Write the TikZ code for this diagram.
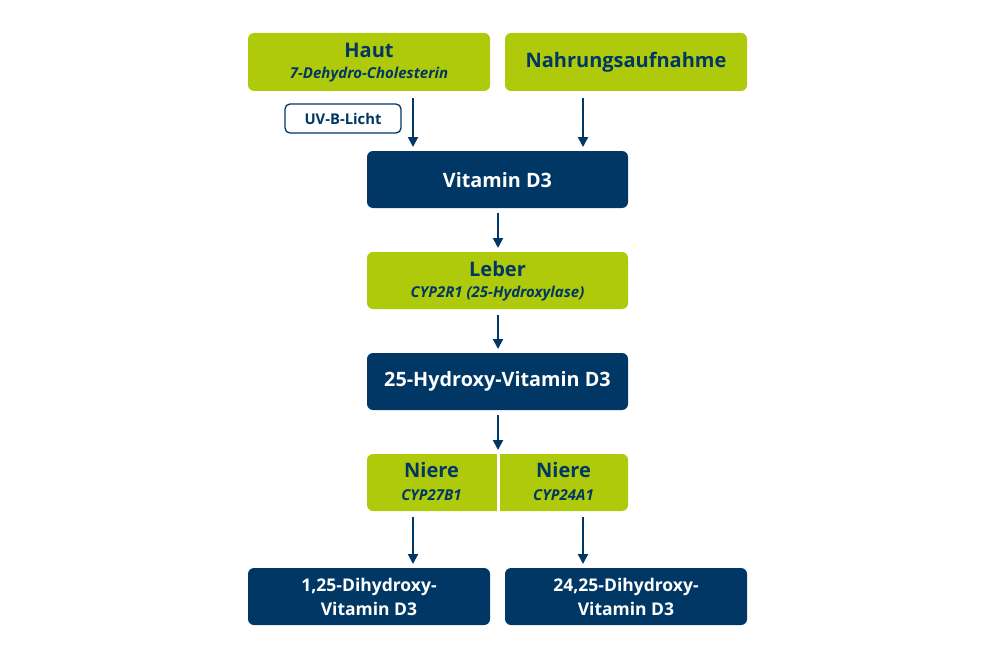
\documentclass[tikz,border=0pt]{standalone}
\usepackage{fontspec}
\setmainfont{Open Sans}
\usetikzlibrary{arrows.meta}
\definecolor{lime}{HTML}{AFCA0B}
\definecolor{navy}{HTML}{003764}
\tikzset{
  greenbox/.style={fill=lime, rounded corners=6pt, text=navy, align=center, inner sep=0pt},
  bluebox/.style={fill=navy, rounded corners=6pt, text=white, align=center, inner sep=0pt},
  conn/.style={draw=navy, line width=2pt, -{Triangle[length=10pt,width=10pt]}},
  big/.style={font=\fontsize{20}{24}\selectfont\bfseries},
  sub/.style={font=\fontsize{15}{17}\selectfont\bfseries\itshape},
  white20/.style={font=\fontsize{19.8}{23}\selectfont\bfseries, text=white},
  bottom/.style={font=\fontsize{17.5}{24}\selectfont\bfseries, text=white, align=center},
}
\begin{document}
\begin{tikzpicture}[x=1pt,y=-1pt]
\useasboundingbox (0,0) rectangle (1000,658);
% boxes
\fill[greenbox] (248,33) rectangle (490,91);
\fill[greenbox] (505,33) rectangle (747,91);
\fill[bluebox] (367,151) rectangle (628,208);
\fill[greenbox] (367,252) rectangle (628,309);
\fill[bluebox] (367,353) rectangle (628,410);
\fill[greenbox] (367,454) rectangle (628,511);
\fill[white] (496.5,452) rectangle (499.5,513);
\fill[bluebox] (248,568) rectangle (490,625);
\fill[bluebox] (505,568) rectangle (747,625);
\draw[navy, line width=1.3pt, rounded corners=5pt, fill=white] (285,104) rectangle (401,133);
% texts
\node[big, text=navy] (haut) at (369,50) {Haut};
\node[sub, text=navy] (hautsub) at (369,75) {7-Dehydro-Cholesterin};
\node[big, text=navy] (nahr) at (626,62) {Nahrungsaufnahme};
\node[font=\fontsize{14.8}{17}\selectfont\bfseries, text=navy] (uvb) at (343,118.5) {UV-B-Licht};
\node[white20] (vd3) at (497.5,180) {Vitamin D3};
\node[big, text=navy] (leber) at (497.5,269) {Leber};
\node[sub, text=navy] (lebersub) at (497.5,294) {CYP2R1 (25-Hydroxylase)};
\node[white20] (hvd3) at (497.5,381) {25-Hydroxy-Vitamin D3};
\node[big, text=navy] (n1) at (431.5,470) {Niere};
\node[sub, text=navy] (n1sub) at (431.5,495) {CYP27B1};
\node[big, text=navy] (n2) at (563.5,470) {Niere};
\node[sub, text=navy] (n2sub) at (563.5,495) {CYP24A1};
\node[bottom] (d1) at (369,596.5) {1,25-Dihydroxy-\\Vitamin D3};
\node[bottom] (d2) at (626,596.5) {24,25-Dihydroxy-\\Vitamin D3};
% arrow endpoints
\coordinate (a1s) at (413,98); \coordinate (a1e) at (413,147);
\coordinate (a2s) at (583,98); \coordinate (a2e) at (583,147);
\coordinate (a3s) at (498,213); \coordinate (a3e) at (498,248);
\coordinate (a4s) at (498,315); \coordinate (a4e) at (498,349);
\coordinate (a5s) at (498,415); \coordinate (a5e) at (498,450);
\coordinate (a6s) at (413,517); \coordinate (a6e) at (413,564);
\coordinate (a7s) at (583,517); \coordinate (a7e) at (583,564);
\draw[conn] (a1s) -- (a1e);
\draw[conn] (a2s) -- (a2e);
\draw[conn] (a3s) -- (a3e);
\draw[conn] (a4s) -- (a4e);
\draw[conn] (a5s) -- (a5e);
\draw[conn] (a6s) -- (a6e);
\draw[conn] (a7s) -- (a7e);
\end{tikzpicture}
\end{document}
